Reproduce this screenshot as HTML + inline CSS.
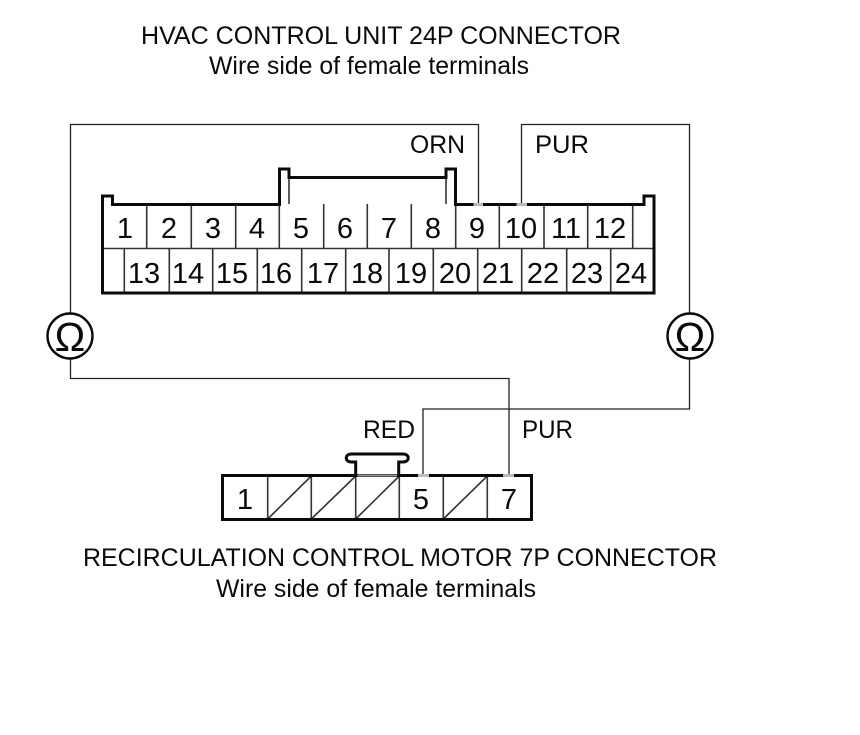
<!DOCTYPE html>
<html>
<head>
<meta charset="utf-8">
<style>
html,body{margin:0;padding:0;background:#fff;}
svg{display:block;}
text{font-family:"Liberation Sans",Arial,sans-serif;fill:#0a0a0a;}
.t{font-size:25px;}
.n{font-size:29px;text-anchor:middle;}
.b{stroke:#0a0a0a;stroke-width:3;fill:none;}
.m{stroke:#333;stroke-width:1.6;fill:none;}
.w{stroke:#222;stroke-width:1.3;fill:none;}
</style>
</head>
<body>
<svg width="860" height="735" viewBox="0 0 860 735" xmlns="http://www.w3.org/2000/svg">
<rect width="860" height="735" fill="#fff"/>
<text class="t" x="141" y="44" textLength="480" lengthAdjust="spacingAndGlyphs">HVAC CONTROL UNIT 24P CONNECTOR</text>
<text class="t" x="209" y="74" textLength="320" lengthAdjust="spacingAndGlyphs">Wire side of female terminals</text>
<text class="t" x="83" y="566" textLength="634" lengthAdjust="spacingAndGlyphs">RECIRCULATION CONTROL MOTOR 7P CONNECTOR</text>
<text class="t" x="216" y="597" textLength="320" lengthAdjust="spacingAndGlyphs">Wire side of female terminals</text>
<text class="t" x="410" y="153" textLength="55" lengthAdjust="spacingAndGlyphs">ORN</text>
<text class="t" x="535" y="153" textLength="54" lengthAdjust="spacingAndGlyphs">PUR</text>
<text class="t" x="363" y="438" textLength="52" lengthAdjust="spacingAndGlyphs">RED</text>
<text class="t" x="522" y="438" textLength="51" lengthAdjust="spacingAndGlyphs">PUR</text>

<!-- wires -->
<path class="w" d="M70.5 313V124.5H478.5V204"/>
<path class="w" d="M521.5 204V124.5H689.5V313"/>
<path class="w" d="M70.5 359V378.5H509V475"/>
<path class="w" d="M689.5 359V409H423V475"/>

<!-- 24P connector -->
<path class="m" d="M146.7 204V248M191.3 204V248M235.7 204V248M279.3 204V248M323.7 204V248M367.3 204V248M411.3 204V248M455.7 204V248M499.3 204V248M544 204V248M587.7 204V248M632.7 204V248"/>
<path class="m" d="M103 248.5H654"/>
<path class="m" d="M124.3 248V292M169.3 248V292M212.7 248V292M257.3 248V292M301.7 248V292M345.7 248V292M389 248V292M433.3 248V292M477.7 248V292M521.7 248V292M566.7 248V292M610.7 248V292"/>
<path class="m" d="M289 177V204M446 177V204"/>
<path class="b" d="M102.5 293V196H112.5V204.5H279.5V169H289V177.5H446V169H455.5V204.5H644V196H654V293Z"/>
<path d="M473.5 204.5H483M516.5 204.5H527" stroke="#bbb" stroke-width="3" fill="none"/>

<text class="n" x="125" y="238">1</text>
<text class="n" x="169" y="238">2</text>
<text class="n" x="213" y="238">3</text>
<text class="n" x="257" y="238">4</text>
<text class="n" x="301" y="238">5</text>
<text class="n" x="345" y="238">6</text>
<text class="n" x="389" y="238">7</text>
<text class="n" x="433" y="238">8</text>
<text class="n" x="477" y="238">9</text>
<text class="n" x="521" y="238">10</text>
<text class="n" x="566" y="238">11</text>
<text class="n" x="610" y="238">12</text>
<text class="n" x="144" y="283">13</text>
<text class="n" x="188" y="283">14</text>
<text class="n" x="232" y="283">15</text>
<text class="n" x="276" y="283">16</text>
<text class="n" x="323" y="283">17</text>
<text class="n" x="367" y="283">18</text>
<text class="n" x="411" y="283">19</text>
<text class="n" x="455" y="283">20</text>
<text class="n" x="498" y="283">21</text>
<text class="n" x="543" y="283">22</text>
<text class="n" x="587" y="283">23</text>
<text class="n" x="631" y="283">24</text>

<!-- Omega meters -->
<circle cx="70" cy="336" r="22.5" fill="#fff" stroke="#0a0a0a" stroke-width="2.4"/>
<circle cx="690" cy="336" r="22.5" fill="#fff" stroke="#0a0a0a" stroke-width="2.4"/>
<text x="70" y="351" style="font-size:41px;text-anchor:middle">Ω</text>
<text x="690" y="351" style="font-size:41px;text-anchor:middle">Ω</text>

<!-- 7P connector -->
<path class="m" d="M267.7 476V519M311.3 476V519M355.7 476V519M399.3 476V519M443.3 476V519M487.3 476V519"/>
<path class="m" d="M267.7 519L311.3 476M311.3 519L355.7 476M355.7 519L399.3 476M443.3 519L487.3 476"/>
<rect class="b" x="222.5" y="475.5" width="309" height="44"/>
<path class="b" d="M355.7 475V462H351.5C344.5 462 344.5 454 351.5 454H403C410 454 410 462 403 462H398.7V475"/>
<path d="M418 475.5H429M503 475.5H514" stroke="#bbb" stroke-width="3" fill="none"/>
<path d="M357.5 475.5H397" stroke="#999" stroke-width="2" fill="none"/>

<text class="n" x="245" y="509">1</text>
<text class="n" x="421" y="509">5</text>
<text class="n" x="509" y="509">7</text>
</svg>
</body>
</html>
